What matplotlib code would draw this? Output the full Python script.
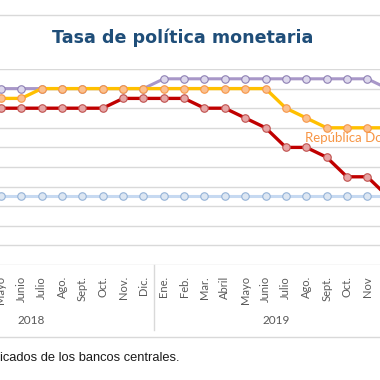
import matplotlib
matplotlib.use("Agg")
import matplotlib.pyplot as plt
import matplotlib.transforms as mtransforms

# Data (monthly, Apr 2018 .. Dec 2019)
months = ["Abril", "Mayo", "Junio", "Julio", "Ago.", "Sept.", "Oct.", "Nov.", "Dic.",
          "Ene.", "Feb.", "Mar.", "Abril", "Mayo", "Junio", "Julio", "Ago.", "Sept.",
          "Oct.", "Nov", "Dic."]
years = ["2018", "2019"]
honduras = [5.5, 5.5, 5.5, 5.5, 5.5, 5.5, 5.5, 5.5, 5.5,
            5.75, 5.75, 5.75, 5.75, 5.75, 5.75, 5.75, 5.75, 5.75, 5.75, 5.75, 5.5]
rep_dom = [5.25, 5.25, 5.25, 5.5, 5.5, 5.5, 5.5, 5.5, 5.5,
           5.5, 5.5, 5.5, 5.5, 5.5, 5.5, 5.0, 4.75, 4.5, 4.5, 4.5, 4.5]
costa_rica = [5.0, 5.0, 5.0, 5.0, 5.0, 5.0, 5.0, 5.25, 5.25,
              5.25, 5.25, 5.0, 5.0, 4.75, 4.5, 4.0, 4.0, 3.75, 3.25, 3.25, 2.75]
guatemala = [2.75] * 21
label_rd = "República Dominicana"

W, H = 380, 380
fig = plt.figure(figsize=(3.8, 3.8), dpi=100)

# Plot area: y=1.0 at pixel 265, y=6.0 at pixel 69
ax = fig.add_axes([0, 1 - 265 / H, 1, (265 - 69) / H])
xs = list(range(-1, len(months) - 1))  # Mayo 2018 -> 0
step = 20.35

for v in [1.0 + 0.5 * i for i in range(11)]:
    ax.axhline(v, color="#D9D9D9", lw=1.0, zorder=0)

def series(vals, lc, mfc, mec, lw, z):
    ax.plot(xs, vals, color=lc, lw=lw, marker="o", ms=5.4, mfc=mfc, mec=mec,
            mew=0.8, zorder=z, solid_joinstyle="round")

series(guatemala, "#C6D9F1", "#DCE6F2", "#95B3D7", 2.2, 2)
series(costa_rica, "#C00000", "#E6A6A6", "#C0504D", 2.4, 3)
series(honduras, "#A897C8", "#DDD8EC", "#8E80B4", 2.2, 4)
series(rep_dom, "#FFC000", "#FAC090", "#F79646", 2.4, 5)

ax.text(14.94, 4.23, label_rd, color="#F79646", fontsize=9.5, family="Lato",
        ha="left", va="center", zorder=6)

for s in ax.spines.values():
    s.set_visible(False)
ax.set_yticks([])
ax.set_xticks(xs)
ax.set_xticklabels(months, rotation=90, fontsize=8, family="Lato", color="#595959")
ax.tick_params(axis="x", length=0, pad=8)
ax.set_xlim(-1 / step, 379 / step)
ax.set_ylim(1.0, 6.0)

trans = mtransforms.blended_transform_factory(ax.transData, ax.transAxes)
ax.text(1.5, (265 - 321) / 196, years[0], transform=trans, ha="center", va="center",
        fontsize=8.5, family="Lato", color="#595959", clip_on=False)
ax.text(13.5, (265 - 321) / 196, years[1], transform=trans, ha="center", va="center",
        fontsize=8.5, family="Lato", color="#595959", clip_on=False)
ax.plot([7.5, 7.5], [0, (265 - 330) / 196], transform=trans, color="#D9D9D9",
        lw=1.0, clip_on=False)

# Figure frame lines
fig.add_artist(plt.Line2D([0, 1], [1 - 15 / H, 1 - 15 / H], color="#D9D9D9", lw=1.0))
fig.add_artist(plt.Line2D([0, 1], [1 - 337 / H, 1 - 337 / H], color="#D9D9D9", lw=1.0))

fig.text(183 / W, 1 - 38 / H, "Tasa de política monetaria", ha="center", va="center",
         fontsize=12.6, fontweight="bold", family="DejaVu Sans", color="#1F4E79")
fig.text(0 / W, 1 - 358 / H, "icados de los bancos centrales.", ha="left", va="center",
         fontsize=9.3, family="Liberation Sans", color="#1A1A1A")

fig.savefig("out.png", dpi=100)
